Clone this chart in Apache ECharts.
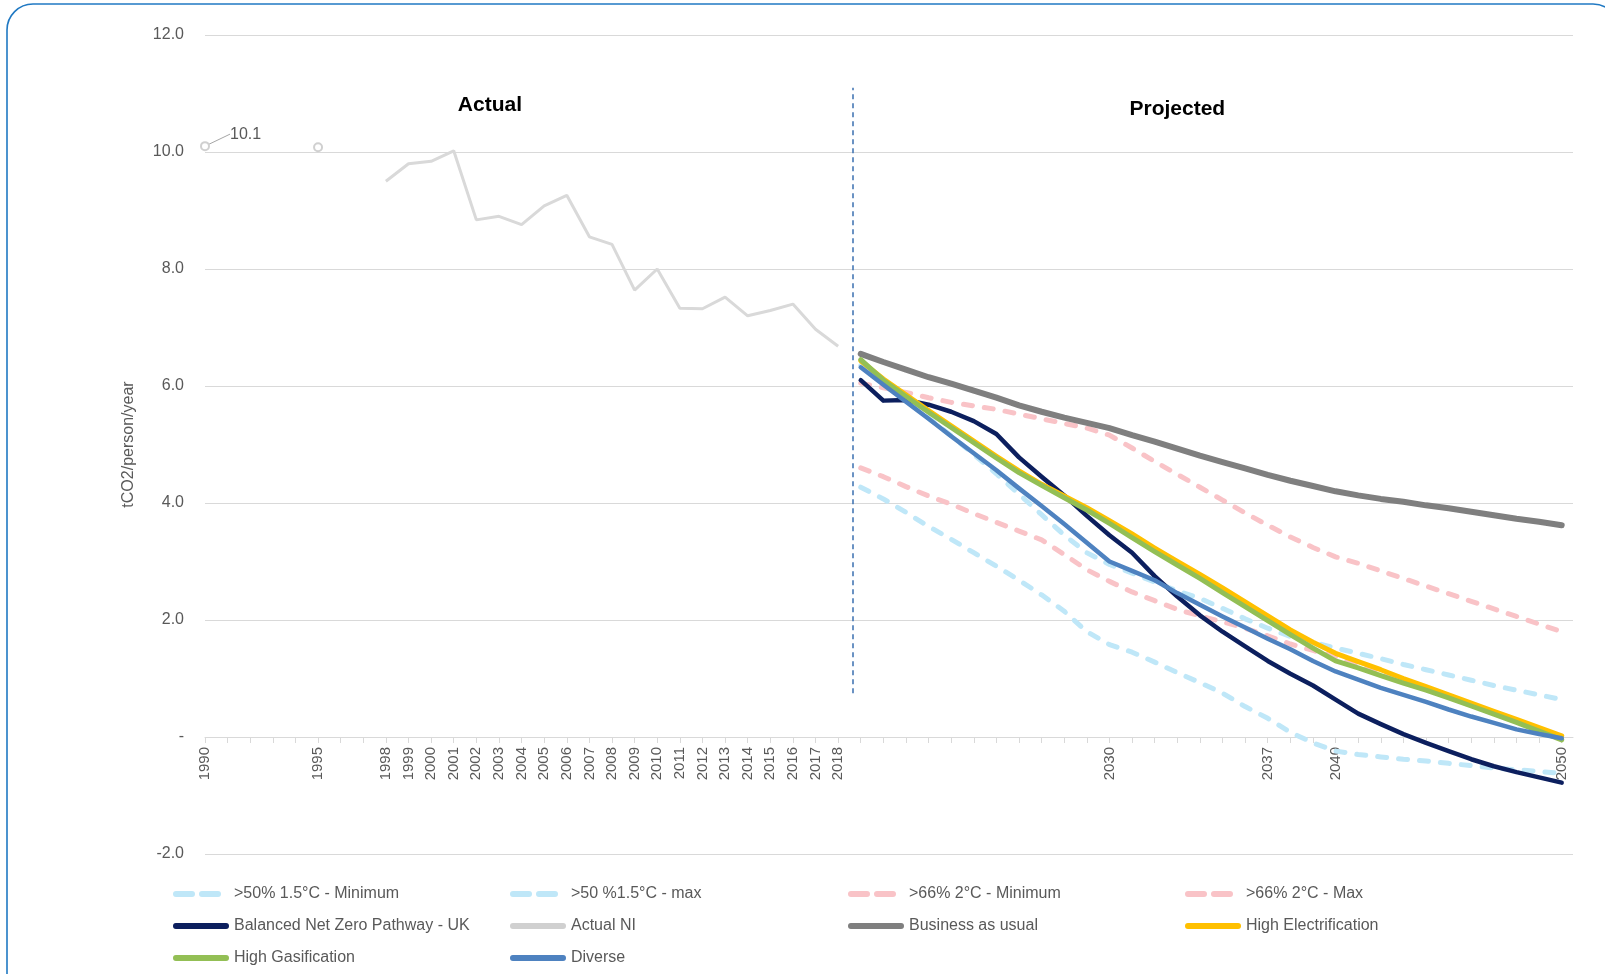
<!DOCTYPE html>
<html><head><meta charset="utf-8">
<script src="https://cdn.jsdelivr.net/npm/echarts@6/dist/echarts.min.js"></script>
<style>html,body{margin:0;padding:0;background:#fff}#chart{width:1605px;height:974px}</style>
</head><body><div id="chart"></div>
<script>
// ---- data ----
const actualYears = [1990,1991,1992,1993,1994,1995,1996,1997,1998,1999,2000,2001,2002,2003,2004,2005,2006,2007,2008,2009,2010,2011,2012,2013,2014,2015,2016,2017,2018];
const actualNI = [10.1,null,null,null,null,10.08,null,null,9.50,9.80,9.84,10.02,8.84,8.90,8.76,9.08,9.26,8.55,8.42,7.64,8.00,7.33,7.32,7.52,7.20,7.29,7.40,6.97,6.68];
const markerYears = [1990,1995];

const projYears = [2019,2020,2021,2022,2023,2024,2025,2026,2027,2028,2029,2030,2031,2032,2033,2034,2035,2036,2037,2038,2039,2040,2041,2042,2043,2044,2045,2046,2047,2048,2049,2050];
const c15Min = [4.27,4.07,3.84,3.60,3.38,3.15,2.92,2.68,2.43,2.15,1.80,1.58,1.45,1.28,1.10,0.93,0.75,0.52,0.32,0.08,-0.10,-0.24,-0.30,-0.34,-0.38,-0.41,-0.45,-0.49,-0.53,-0.56,-0.59,-0.62];
const c15Max = [6.35,6.05,5.75,5.45,5.15,4.83,4.50,4.15,3.80,3.45,3.15,2.95,2.80,2.65,2.50,2.37,2.20,2.02,1.86,1.72,1.62,1.52,1.43,1.34,1.24,1.15,1.06,0.97,0.88,0.80,0.72,0.64];
const c2Min = [4.60,4.45,4.28,4.12,3.98,3.82,3.67,3.52,3.37,3.12,2.86,2.66,2.48,2.33,2.18,2.07,1.97,1.86,1.73,1.59,1.48,1.37,1.22,1.09,0.96,0.82,0.68,0.54,0.40,0.27,0.13,0.00];
const c2Max = [6.05,5.97,5.89,5.80,5.72,5.66,5.60,5.52,5.44,5.36,5.28,5.16,4.94,4.71,4.49,4.27,4.05,3.83,3.62,3.42,3.24,3.08,2.97,2.84,2.71,2.58,2.45,2.32,2.19,2.06,1.93,1.80];
const balancedNZ = [6.10,5.75,5.76,5.68,5.56,5.40,5.18,4.78,4.45,4.13,3.78,3.45,3.15,2.75,2.40,2.08,1.80,1.55,1.30,1.08,0.88,0.64,0.40,0.22,0.05,-0.10,-0.24,-0.38,-0.50,-0.60,-0.69,-0.78];
const bau = [6.55,6.41,6.28,6.15,6.04,5.92,5.80,5.67,5.56,5.46,5.37,5.28,5.16,5.05,4.93,4.81,4.70,4.59,4.48,4.38,4.29,4.20,4.13,4.07,4.02,3.96,3.91,3.85,3.79,3.73,3.68,3.62];
const highElec = [6.43,6.12,5.85,5.58,5.32,5.06,4.80,4.55,4.32,4.12,3.92,3.70,3.47,3.23,3.00,2.78,2.55,2.31,2.07,1.83,1.62,1.43,1.29,1.15,1.00,0.86,0.72,0.58,0.44,0.30,0.16,0.02];
const highGas = [6.45,6.10,5.82,5.55,5.29,5.03,4.77,4.52,4.30,4.09,3.88,3.65,3.41,3.17,2.94,2.71,2.47,2.23,1.99,1.75,1.52,1.30,1.18,1.05,0.92,0.80,0.67,0.53,0.39,0.25,0.10,-0.05];
const diverse = [6.32,6.02,5.73,5.44,5.14,4.85,4.56,4.25,3.95,3.64,3.32,3.00,2.84,2.68,2.46,2.26,2.06,1.87,1.68,1.50,1.30,1.12,0.98,0.84,0.72,0.60,0.47,0.35,0.24,0.13,0.05,-0.02];

const tickLabelYears = [1990,1995,1998,1999,2000,2001,2002,2003,2004,2005,2006,2007,2008,2009,2010,2011,2012,2013,2014,2015,2016,2017,2018,2030,2037,2040,2050];
const dividerYear = 2018.66;
const dividerRange = [0.75, 11.1];
const sectionLabels = [{text:'Actual', year:2002.6, value:10.8},{text:'Projected', year:2033, value:10.73}];

const names = ['>50% 1.5°C - Minimum','>50 %1.5°C - max','>66% 2°C - Minimum','>66% 2°C - Max','Balanced Net Zero Pathway - UK','Actual NI','Business as usual','High Electrification','High Gasification','Diverse'];

// ---- build ----
const FONT = '"Liberation Sans", Arial, sans-serif';
const TXT = '#595959';
const pair = (ys, vs) => ys.map((y,i) => [y, vs[i] === null ? '-' : vs[i]]);

function dashed(name, vals, color){
  return {name, type:'line', data: pair(projYears, vals), symbol:'none', smooth:false,
    lineStyle:{color, width:5, type:[9,12], cap:'round'}, itemStyle:{color}};
}
function solid(name, vals, color, w){
  return {name, type:'line', data: pair(projYears, vals), symbol:'none',
    lineStyle:{color, width:w, cap:'round', join:'round'}, itemStyle:{color}};
}

const actualData = actualYears.map((y,i) => {
  const v = actualNI[i];
  if (v === null) return {value:[y,'-']};
  const item = {value:[y, v]};
  if (markerYears.includes(y)) {
    item.symbol = 'emptyCircle'; item.symbolSize = 8;
  }
  if (y === 1990) {
    item.label = {show:true, formatter:'10.1', position:'right', distance:4, color:TXT, fontSize:16, fontFamily:FONT};
    item.labelLine = {show:true, lineStyle:{color:'#a6a6a6', width:1}};
  }
  return item;
});

const series = [
  dashed(names[0], c15Min, '#bfe7f8'),
  dashed(names[1], c15Max, '#bfe7f8'),
  dashed(names[2], c2Min, '#f9c3c7'),
  dashed(names[3], c2Max, '#f9c3c7'),
  solid(names[4], balancedNZ, '#0c1f5e', 4.5),
  {name:names[5], type:'line', data: actualData, symbol:'none', connectNulls:false,
    lineStyle:{color:'#d9d9d9', width:3}, itemStyle:{color:'#d0d0d0', borderWidth:2},
    labelLayout:{dx:16, dy:-12},
    markLine:{silent:true, symbol:'none', label:{show:false},
      lineStyle:{color:'#3a6fb0', width:1.5, type:[5,4]},
      data:[[{coord:[dividerYear, dividerRange[0]]},{coord:[dividerYear, dividerRange[1]]}]]},
    markPoint:{silent:true, symbol:'rect', symbolSize:1, itemStyle:{color:'rgba(0,0,0,0)'},
      data: sectionLabels.map(s => ({coord:[s.year, s.value], label:{show:true, position:'inside', formatter:s.text,
        color:'#000', fontSize:21, fontWeight:'bold', fontFamily:FONT}}))}
  },
  solid(names[6], bau, '#7f7f7f', 6),
  solid(names[7], highElec, '#ffc000', 5),
  solid(names[8], highGas, '#93bf55', 5),
  solid(names[9], diverse, '#4e82c0', 4.5),
];

// legend icons (shapes only)
const ICON_SOLID = 'path://M2,0H54A3,3 0 0 1 54,6H2A3,3 0 0 1 2,0Z';
const ICON_DASH = 'path://M3,0H19A3,3 0 0 1 19,6H3A3,3 0 0 1 3,0Z M29,0H45A3,3 0 0 1 45,6H29A3,3 0 0 1 29,0Z M56,0L56,6L56,0Z';
const dashedNames = names.slice(0,4);
const legendItem = n => ({name:n, icon: dashedNames.includes(n) ? ICON_DASH : ICON_SOLID});

const legendBase = {orient:'vertical', itemWidth:56, itemHeight:6, itemGap:14, top:880, height:110,
  textStyle:{color:TXT, fontSize:16, fontFamily:FONT, lineHeight:18}, inactiveColor:'#ccc'};
const legendCols = [[names[0],names[4],names[8]],[names[1],names[5],names[9]],[names[2],names[6]],[names[3],names[7]]];
const legendLefts = [168, 505, 843, 1180];

const option = {
  animation:false,
  backgroundColor:'#fff',
  textStyle:{fontFamily:FONT},
  graphic:[{type:'rect', silent:true, shape:{x:7, y:4, width:1612, height:1010, r:26},
    style:{fill:'none', stroke:'#2079c3', lineWidth:1.6}, z:-10}],
  grid:{left:205, right:32, top:35, bottom:120, containLabel:false},
  legend: legendCols.map((d,i) => Object.assign({}, legendBase, {left:legendLefts[i], data:d.map(legendItem)})),
  xAxis:{type:'value', min:1990, max:2050.5, interval:1, offset:-117,
    axisLine:{onZero:false, lineStyle:{color:'#d9d9d9', width:1}},
    axisTick:{show:true, length:6, lineStyle:{color:'#d9d9d9'}},
    splitLine:{show:false},
    axisLabel:{rotate:90, margin:10, color:TXT, fontSize:15, fontFamily:FONT, showMaxLabel:false, hideOverlap:false,
      formatter: v => tickLabelYears.includes(v) ? String(v) : ''}},
  yAxis:{type:'value', min:-2, max:12, interval:2,
    name:'tCO2/person/year', nameLocation:'middle', nameRotate:90, nameGap:68,
    nameTextStyle:{color:TXT, fontSize:16, fontFamily:FONT},
    axisLine:{show:false}, axisTick:{show:false},
    splitLine:{lineStyle:{color:'#d9d9d9', width:1}},
    axisLabel:{color:TXT, fontSize:16, margin:21, fontFamily:FONT, formatter: v => v === 0 ? '-' : v.toFixed(1)}},
  series
};
const chart = echarts.init(document.getElementById('chart'), null, {renderer:'canvas'});
chart.setOption(option);
</script></body></html>
